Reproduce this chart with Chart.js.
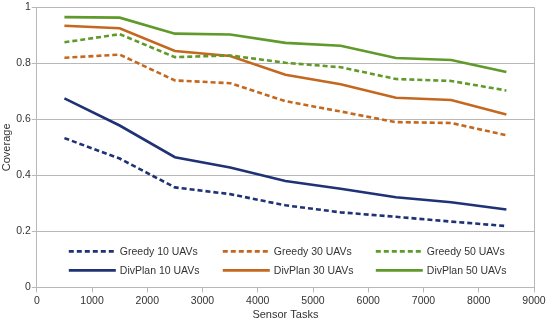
<!DOCTYPE html>
<html>
<head>
<meta charset="utf-8">
<script src="https://cdn.jsdelivr.net/npm/chart.js@4"></script>
<style>
  html, body { margin: 0; padding: 0; background: #fff; }
  #wrap { width: 550px; height: 320px; }
</style>
</head>
<body>
<div id="wrap"><canvas id="coverageChart" width="550" height="320"></canvas></div>
<script>
// sensor task counts (x) and coverage per series
const sensorTasks = [500, 1500, 2500, 3500, 4500, 5500, 6500, 7500, 8500];
const greedy10  = [0.533, 0.46, 0.357, 0.333, 0.293, 0.268, 0.252, 0.235, 0.219];
const greedy30  = [0.82, 0.831, 0.739, 0.729, 0.665, 0.628, 0.59, 0.587, 0.543];
const greedy50  = [0.875, 0.904, 0.822, 0.828, 0.802, 0.786, 0.744, 0.737, 0.703];
const divplan10 = [0.675, 0.578, 0.465, 0.428, 0.38, 0.352, 0.322, 0.304, 0.278];
const divplan30 = [0.934, 0.925, 0.844, 0.826, 0.759, 0.725, 0.677, 0.669, 0.617];
const divplan50 = [0.965, 0.963, 0.906, 0.903, 0.873, 0.863, 0.819, 0.812, 0.769];
const yTicks = [0, 0.2, 0.4, 0.6, 0.8, 1];

const NAVY = '#1f3275';
const ORANGE = '#c4681f';
const GREEN = '#5f9a2b';
const GRID = '#b8b8b8';
const FONT = '"Liberation Sans", Arial, sans-serif';

function pts(values) {
    return values.map((v, i) => ({ x: sensorTasks[i], y: v }));
}

function series(label, values, color, dashed) {
    return {
        label: label,
        data: pts(values),
        borderColor: color,
        backgroundColor: color,
        borderWidth: 2.6,
        borderDash: dashed ? [5, 3] : [],
        pointRadius: 0,
        fill: false,
        tension: 0
    };
}

// legend drawn inside the plot, bottom, 3 columns x 2 rows
const innerLegend = {
    id: 'innerLegend',
    afterDatasetsDraw(chart) {
        const ctx = chart.ctx;
        const area = chart.chartArea;
        const colX = [32, 186, 339];
        const rowY = [area.bottom - 36, area.bottom - 17];
        ctx.save();
        ctx.font = '10.5px ' + FONT;
        ctx.textBaseline = 'middle';
        chart.data.datasets.forEach((ds, i) => {
            const col = i % 3;
            const row = Math.floor(i / 3);
            const x = area.left + colX[col];
            const y = rowY[row];
            ctx.strokeStyle = ds.borderColor;
            ctx.lineWidth = ds.borderWidth;
            ctx.setLineDash(ds.borderDash);
            ctx.beginPath();
            ctx.moveTo(x, y);
            ctx.lineTo(x + 47, y);
            ctx.stroke();
            ctx.setLineDash([]);
            ctx.fillStyle = '#333';
            ctx.fillText(ds.label, x + 51, y + 1);
        });
        ctx.restore();
    }
};

const ctx = document.getElementById('coverageChart').getContext('2d');
new Chart(ctx, {
    type: 'line',
    data: {
        datasets: [
            series('Greedy 10 UAVs', greedy10, NAVY, true),
            series('Greedy 30 UAVs', greedy30, ORANGE, true),
            series('Greedy 50 UAVs', greedy50, GREEN, true),
            series('DivPlan 10 UAVs', divplan10, NAVY, false),
            series('DivPlan 30 UAVs', divplan30, ORANGE, false),
            series('DivPlan 50 UAVs', divplan50, GREEN, false)
        ]
    },
    options: {
        responsive: false,
        animation: false,
        layout: { padding: { top: 3, right: 16, bottom: 0, left: 0 } },
        plugins: {
            legend: { display: false },
            tooltip: { enabled: false }
        },
        scales: {
            x: {
                type: 'linear',
                min: 0,
                max: 9000,
                ticks: {
                    stepSize: 1000,
                    color: '#333',
                    padding: 2,
                    font: { family: FONT, size: 10.5 },
                    callback: v => String(v)
                },
                grid: {
                    color: c => (c.tick && c.tick.value === 9000) ? GRID : 'rgba(0,0,0,0)',
                    tickColor: GRID,
                    tickLength: 5
                },
                border: { color: GRID },
                title: {
                    display: true,
                    text: 'Sensor Tasks',
                    color: '#333',
                    padding: { top: 0, bottom: 0 },
                    font: { family: FONT, size: 11, lineHeight: 1.0 }
                }
            },
            y: {
                min: 0,
                max: 1,
                afterBuildTicks: axis => { axis.ticks = yTicks.map(v => ({ value: v })); },
                ticks: {
                    color: '#333',
                    padding: 1,
                    font: { family: FONT, size: 10.5 },
                    callback: v => String(v)
                },
                grid: {
                    color: GRID,
                    tickColor: GRID,
                    tickLength: 5
                },
                border: { color: GRID },
                title: {
                    display: true,
                    text: 'Coverage',
                    color: '#333',
                    padding: { top: 0, bottom: 2 },
                    font: { family: FONT, size: 11 }
                }
            }
        }
    },
    plugins: [innerLegend]
});
</script>
</body>
</html>
